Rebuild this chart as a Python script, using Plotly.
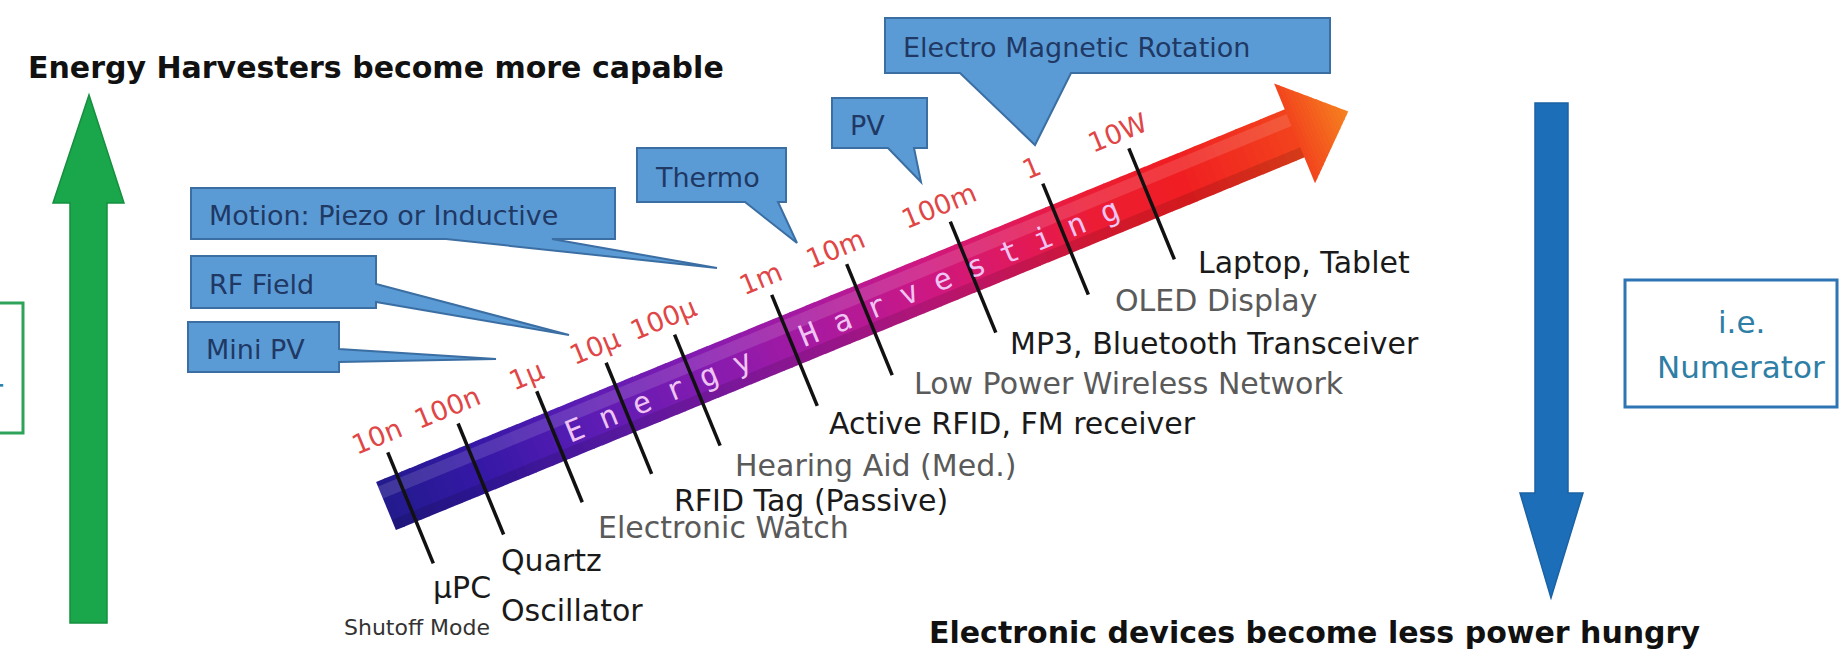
import numpy as np
import plotly.graph_objects as go

# power levels marked along the harvesting arrow
power_labels = ["10n", "100n", "1µ", "10µ", "100µ", "1m", "10m", "100m", "1", "10W"]

# device that runs on roughly that power level
devices = ["µPC", "Quartz<br>Oscillator", "Electronic Watch", "RFID Tag (Passive)",
           "Hearing Aid (Med.)", "Active RFID, FM receiver", "Low Power Wireless Network",
           "MP3, Bluetooth Transceiver", "OLED Display", "Laptop, Tablet"]
device_grey = [False, False, True, False, True, False, True, False, True, False]
device_note = "Shutoff Mode"

# harvesting sources (callouts pointing at the arrow)
sources = ["Mini PV", "RF Field", "Motion: Piezo or Inductive", "Thermo", "PV",
           "Electro Magnetic Rotation"]

title_top = "Energy Harvesters become more capable"
title_bottom = "Electronic devices become less power hungry"
band_word = ["Energy", "Harvesting"]
right_box = ["i.e.", "Numerator"]
left_box = "Denominator"

# ---- layout (pixel space of the picture) ----
W, H = 1839, 649
FONT = "DejaVu Sans"
x0, y0 = 386, 506
ang = np.radians(22.3)
length, head_at = 1040, 982
half_w, head_half = 26, 54
tick_s = [22, 98, 183, 258, 332, 437, 518, 630, 730, 823]
tick_top, tick_bot = -49, 71

device_xy = [(493, 587), (499, 560), (596, 527), (672, 500), (733, 465), (827, 423),
             (912, 383), (1008, 343), (1113, 300), (1196, 262)]

callouts = [
    dict(box=(188, 322, 339, 372), side="right", base=(349, 362), tip=(496, 359)),
    dict(box=(191, 256, 376, 308), side="right", base=(284, 302), tip=(569, 335)),
    dict(box=(191, 188, 615, 239), side="bottom", base=(446, 552), tip=(717, 268)),
    dict(box=(637, 148, 786, 202), side="bottom", base=(745, 778), tip=(797, 243)),
    dict(box=(832, 98, 927, 148), side="bottom", base=(888, 914), tip=(921, 182)),
    dict(box=(885, 18, 1330, 73), side="bottom", base=(960, 1071), tip=(1035, 145)),
]

grad = [(0, "#221a8c"), (100, "#3518a6"), (220, "#5b1cb4"), (350, "#861bb0"),
        (470, "#aa199e"), (580, "#cc1884"), (680, "#e0195c"), (760, "#ec1c36"),
        (860, "#f01e22"), (980, "#f2421c"), (1040, "#f6821f")]


def pt(s, off=0.0):
    return (x0 + s * np.cos(ang) + off * np.sin(ang),
            y0 - s * np.sin(ang) + off * np.cos(ang))


def hex_rgb(h):
    return [int(h[i:i + 2], 16) for i in (1, 3, 5)]


def grad_color(s):
    ss = [g[0] for g in grad]
    rgb = [np.interp(s, ss, [hex_rgb(g[1])[k] for g in grad]) for k in range(3)]
    return "rgb({:.0f},{:.0f},{:.0f})".format(*rgb)


def poly(points):
    return "M" + " L".join(f"{x:.1f},{y:.1f}" for x, y in points) + " Z"


def bubble(box, side, base, tip):
    bx0, by0, bx1, by1 = box
    if side == "bottom":
        pts = [(bx0, by0), (bx1, by0), (bx1, by1), (base[1], by1), tip,
               (base[0], by1), (bx0, by1)]
    else:
        pts = [(bx0, by0), (bx1, by0), (bx1, base[0]), tip, (bx1, base[1]),
               (bx1, by1), (bx0, by1)]
    return poly(pts)


shapes = []

# green and blue vertical arrows
shapes.append(dict(type="path", path=poly([(70, 623), (70, 203), (53, 203), (89, 95),
                                           (124, 203), (107, 203), (107, 623)]),
                   fillcolor="#1aa64b", line=dict(color="#15903f", width=1.5)))
shapes.append(dict(type="path", path=poly([(1535, 103), (1568, 103), (1568, 493), (1583, 493),
                                           (1551, 598), (1520, 493), (1535, 493)]),
                   fillcolor="#1c6eb8", line=dict(color="#1a62a4", width=1.5)))

# side boxes
shapes.append(dict(type="rect", x0=-10, x1=23, y0=303, y1=433,
                   line=dict(color="#2ea35a", width=3), fillcolor="white"))
shapes.append(dict(type="rect", x0=1625, x1=1837, y0=280, y1=407,
                   line=dict(color="#2e75b6", width=3), fillcolor="white"))

# main gradient arrow: shaft
edges = np.linspace(0, head_at, 111)
for a, b in zip(edges[:-1], edges[1:]):
    b2 = b + 0.8
    shapes.append(dict(type="path",
                       path=poly([pt(a, -half_w), pt(b2, -half_w), pt(b2, half_w), pt(a, half_w)]),
                       fillcolor=grad_color((a + b) / 2), line=dict(width=0)))
# head
edges = np.linspace(head_at, length, 17)
for a, b in zip(edges[:-1], edges[1:]):
    wa = head_half * (length - a) / (length - head_at)
    b2 = min(b + 0.6, length)
    wb = head_half * (length - b2) / (length - head_at)
    shapes.append(dict(type="path",
                       path=poly([pt(a, -wa), pt(b2, -wb), pt(b2, wb), pt(a, wa)]),
                       fillcolor=grad_color((a + b) / 2), line=dict(width=0)))
# tube shading
shapes.append(dict(type="path", path=poly([pt(0, -21), pt(head_at, -21), pt(head_at, -8), pt(0, -8)]),
                   fillcolor="rgba(255,255,255,0.13)", line=dict(width=0)))
shapes.append(dict(type="path", path=poly([pt(0, 15), pt(head_at, 15), pt(head_at, 26), pt(0, 26)]),
                   fillcolor="rgba(0,0,0,0.12)", line=dict(width=0)))

# tick lines
for s in tick_s:
    xa, ya = pt(s, tick_top)
    xb, yb = pt(s, tick_bot)
    shapes.append(dict(type="line", x0=xa, y0=ya, x1=xb, y1=yb,
                       line=dict(color="#111111", width=3.5)))

# callout bubbles
for c in callouts:
    shapes.append(dict(type="path", path=bubble(c["box"], c["side"], c["base"], c["tip"]),
                       fillcolor="#5b9bd5", line=dict(color="#3b6ea3", width=2)))

annotations = []


def text(x, y, s, size, color="#1a1a1a", anchor="left", angle=0, family=FONT, bold=False):
    annotations.append(dict(x=x, y=y, xref="x", yref="y", text=s, showarrow=False,
                            xanchor=anchor, yanchor="middle", textangle=angle,
                            font=dict(family=family, size=size, color=color,
                                      weight="bold" if bold else "normal")))


text(26, 67, title_top, 30, "#111111", bold=True)
text(927, 632, title_bottom, 30, "#111111", bold=True)

for c, name in zip(callouts, sources):
    bx0, by0, bx1, by1 = c["box"]
    text(bx0 + 16, (by0 + by1) / 2 + 2, name, 27, "#1f3864")

for s, lab in zip(tick_s, power_labels):
    lx, ly = pt(s - 4, -68)
    text(lx, ly, lab, 27, "#e04646", "center", -22.3)

for name, grey, (lx, ly) in zip(devices, device_grey, device_xy):
    col = "#5a5a5a" if grey else "#1a1a1a"
    anchor = "right" if name == "µPC" else "left"
    for k, line in enumerate(name.split("<br>")):
        text(lx, ly + 50 * k, line, 30, col, anchor)
text(492, 627, device_note, 22, "#333333", "right")

band = "\u00a0".join(band_word[0]) + "\u00a0" * 3 + "\u00a0".join(band_word[1])
bx, by = pt(492, 1)
text(bx, by, band, 30, "#efc4f3", "center", -22.3, family="DejaVu Sans Mono")

text(1741, 322, right_box[0], 31, "#2e7ea6", "center")
text(1741, 367, right_box[1], 31, "#2e7ea6", "center")
text(5, 390, left_box, 31, "#2e7ea6", "right")

fig = go.Figure()
fig.update_layout(
    width=W, height=H,
    margin=dict(l=0, r=0, t=0, b=0),
    paper_bgcolor="white", plot_bgcolor="white",
    xaxis=dict(range=[0, W], visible=False),
    yaxis=dict(range=[H, 0], visible=False),
    shapes=shapes, annotations=annotations,
    showlegend=False,
)
fig.write_html("out.html", config={"displayModeBar": False},
               post_script="document.body.style.margin='0';document.body.style.overflow='hidden';")
